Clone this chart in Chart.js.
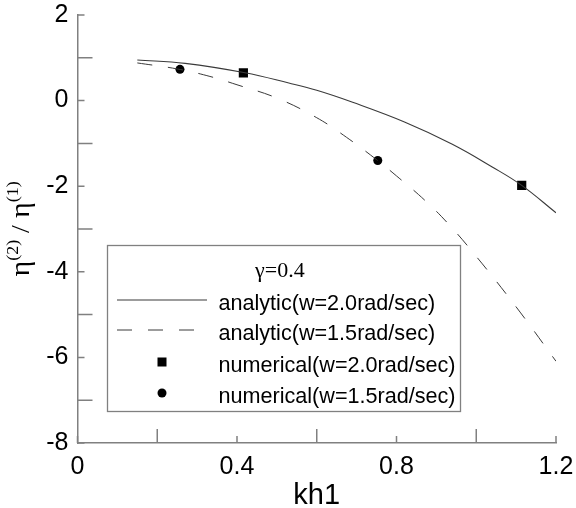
<!DOCTYPE html>
<html>
<head>
<meta charset="utf-8">
<script src="https://cdn.jsdelivr.net/npm/chart.js@4.4.1/dist/chart.umd.min.js"></script>
<style>
  html, body { margin: 0; padding: 0; background: #fff; overflow: hidden; }
  #chart { display: block; }
</style>
</head>
<body>
<canvas id="chart" width="576" height="508" style="width:576px;height:508px"></canvas>
<script>
// axis ticks
const xTicks = [0, 0.4, 0.8, 1.2];
const xMinorTicks = [0.2, 0.6, 1.0];
const yTicks = [-8, -6, -4, -2, 0, 2];
const yMinorTicks = [-7, -5, -3, -1, 1];

// analytic, w = 2.0 rad/sec (solid)
const khA20 = [0.15, 0.27, 0.42, 0.53, 0.60, 0.69, 0.82, 0.94, 1.04, 1.114, 1.20];
const etaA20 = [0.95, 0.87, 0.65, 0.41, 0.24, -0.04, -0.50, -1.02, -1.55, -1.98, -2.62];

// analytic, w = 1.5 rad/sec (dashed)
const khA15 = [0.15, 0.25, 0.33, 0.40, 0.50, 0.60, 0.675, 0.75, 0.80, 0.87, 0.93, 1.00, 1.10, 1.20];
const etaA15 = [0.88, 0.74, 0.57, 0.37, 0.06, -0.40, -0.86, -1.38, -1.76, -2.32, -2.88, -3.64, -4.82, -6.09];

// numerical results
const khN20 = [0.416, 1.114];
const etaN20 = [0.65, -1.98];
const khN15 = [0.257, 0.753];
const etaN15 = [0.73, -1.40];

const seriesLabels = [
  "analytic(w=2.0rad/sec)",
  "analytic(w=1.5rad/sec)",
  "numerical(w=2.0rad/sec)",
  "numerical(w=1.5rad/sec)"
];
const legendTitle = "γ=0.4";
const xTitle = "kh1";

const axisGray = "#808080";
const lineGray = "#3a3a3a";

function toPoints(xs, ys) {
  return xs.map((x, i) => ({ x: x, y: ys[i] }));
}

// inward tick marks, short on labelled values, long in between
const tickMarks = {
  id: "tickMarks",
  afterDraw(chart) {
    const { ctx, chartArea: a, scales: { x, y } } = chart;
    ctx.save();
    ctx.strokeStyle = axisGray;
    ctx.lineWidth = 1.5;
    ctx.beginPath();
    xTicks.forEach(v => { const p = x.getPixelForValue(v); ctx.moveTo(p, a.bottom); ctx.lineTo(p, a.bottom - 7); });
    xMinorTicks.forEach(v => { const p = x.getPixelForValue(v); ctx.moveTo(p, a.bottom); ctx.lineTo(p, a.bottom - 14); });
    yTicks.forEach(v => { const p = y.getPixelForValue(v); ctx.moveTo(a.left, p); ctx.lineTo(a.left + 7, p); });
    yMinorTicks.forEach(v => { const p = y.getPixelForValue(v); ctx.moveTo(a.left, p); ctx.lineTo(a.left + 15, p); });
    ctx.stroke();
    ctx.restore();
  }
};

// axis titles
const axisTitles = {
  id: "axisTitles",
  afterDraw(chart) {
    const { ctx, chartArea: a } = chart;
    ctx.save();
    ctx.fillStyle = "#000";
    ctx.font = '29px "Liberation Sans", Arial, sans-serif';
    ctx.textAlign = "center";
    ctx.textBaseline = "alphabetic";
    ctx.fillText(xTitle, (a.left + a.right) / 2, 504);

    // y title: eta(2) / eta(1), rotated
    const parts = [
      { t: "η", f: '27px "Liberation Serif", serif', rise: 0 },
      { t: "(2)", f: '16px "Liberation Serif", serif', rise: 11 },
      { t: " / ", f: '25px "Liberation Serif", serif', rise: 0 },
      { t: "η", f: '27px "Liberation Serif", serif', rise: 0 },
      { t: "(1)", f: '16px "Liberation Serif", serif', rise: 11 }
    ];
    let total = 0;
    parts.forEach(p => { ctx.font = p.f; p.w = ctx.measureText(p.t).width; total += p.w; });
    ctx.translate(29, 229);
    ctx.rotate(-Math.PI / 2);
    ctx.scale(1.12, 1);
    ctx.textAlign = "left";
    let u = -total / 2;
    parts.forEach(p => {
      ctx.font = p.f;
      ctx.fillText(p.t, u, -p.rise);
      u += p.w;
    });
    ctx.restore();
  }
};

// boxed legend inside the plot
const boxLegend = {
  id: "boxLegend",
  afterDraw(chart) {
    const ctx = chart.ctx;
    const sets = chart.data.datasets;
    const left = 107.5, right = 460.5, top = 245.5, bottom = 411.5;
    const rows = [300, 330, 362, 393];
    ctx.save();
    ctx.fillStyle = "#fff";
    ctx.fillRect(left, top, right - left, bottom - top);
    ctx.strokeStyle = axisGray;
    ctx.lineWidth = 1.3;
    ctx.strokeRect(left, top, right - left, bottom - top);

    ctx.fillStyle = "#000";
    ctx.font = '22px "Liberation Serif", "Times New Roman", serif';
    ctx.textAlign = "left";
    ctx.textBaseline = "alphabetic";
    ctx.fillText(legendTitle, 255, 277);

    sets.forEach((ds, i) => {
      const cy = rows[i];
      if (ds.showLine === false) {
        ctx.fillStyle = "#000";
        if (ds.pointStyle === "rect") {
          ctx.fillRect(162 - 4.5, cy - 4.5, 9, 9);
        } else {
          ctx.beginPath();
          ctx.arc(162, cy, 4.5, 0, Math.PI * 2);
          ctx.fill();
        }
      } else {
        ctx.strokeStyle = ds.borderColor;
        ctx.lineWidth = ds.borderWidth;
        ctx.setLineDash(ds.borderDash || []);
        ctx.beginPath();
        ctx.moveTo(117, cy);
        ctx.lineTo(207, cy);
        ctx.stroke();
        ctx.setLineDash([]);
      }
      ctx.fillStyle = "#000";
      ctx.font = '21.6px "Liberation Sans", Arial, sans-serif';
      ctx.fillText(ds.label, 218.5, cy + 10);
    });
    ctx.restore();
  }
};

const tickFont = { family: '"Liberation Sans", Arial, sans-serif', size: 25 };

new Chart(document.getElementById("chart"), {
  type: "line",
  data: {
    datasets: [
      {
        label: seriesLabels[0],
        data: toPoints(khA20, etaA20),
        borderColor: lineGray,
        borderWidth: 1.1,
        pointRadius: 0,
        tension: 0.4,
        fill: false
      },
      {
        label: seriesLabels[1],
        data: toPoints(khA15, etaA15),
        borderColor: lineGray,
        borderWidth: 1,
        borderDash: [15, 16],
        pointRadius: 0,
        tension: 0.4,
        fill: false
      },
      {
        label: seriesLabels[2],
        data: toPoints(khN20, etaN20),
        showLine: false,
        pointStyle: "rect",
        pointRadius: 6.5,
        backgroundColor: "#000",
        borderColor: "#000",
        borderWidth: 0
      },
      {
        label: seriesLabels[3],
        data: toPoints(khN15, etaN15),
        showLine: false,
        pointStyle: "circle",
        pointRadius: 4.5,
        backgroundColor: "#000",
        borderColor: "#000",
        borderWidth: 0
      }
    ]
  },
  options: {
    responsive: false,
    animation: false,
    devicePixelRatio: 1,
    layout: { autoPadding: false, padding: { top: 15, right: 20, left: 0, bottom: 0 } },
    plugins: { legend: { display: false }, tooltip: { enabled: false } },
    scales: {
      x: {
        type: "linear",
        min: 0,
        max: 1.2,
        afterBuildTicks: s => { s.ticks = xTicks.map(v => ({ value: v })); },
        afterFit: s => { s.height = 65; s.paddingLeft = 0; s.paddingRight = 0; },
        grid: { display: false, drawTicks: false, tickLength: 0 },
        border: { color: axisGray, width: 1.5 },
        ticks: { color: "#000", font: tickFont, padding: 9, maxRotation: 0, callback: v => String(v) }
      },
      y: {
        type: "linear",
        min: -8,
        max: 2,
        afterBuildTicks: s => { s.ticks = yTicks.map(v => ({ value: v })); },
        afterFit: s => { s.width = 77.5; s.paddingTop = 0; s.paddingBottom = 0; },
        grid: { display: false, drawTicks: false, tickLength: 0 },
        border: { color: axisGray, width: 1.5 },
        ticks: { color: "#000", font: tickFont, padding: 9, callback: v => String(v) }
      }
    }
  },
  plugins: [tickMarks, boxLegend, axisTitles]
});
</script>
</body>
</html>
